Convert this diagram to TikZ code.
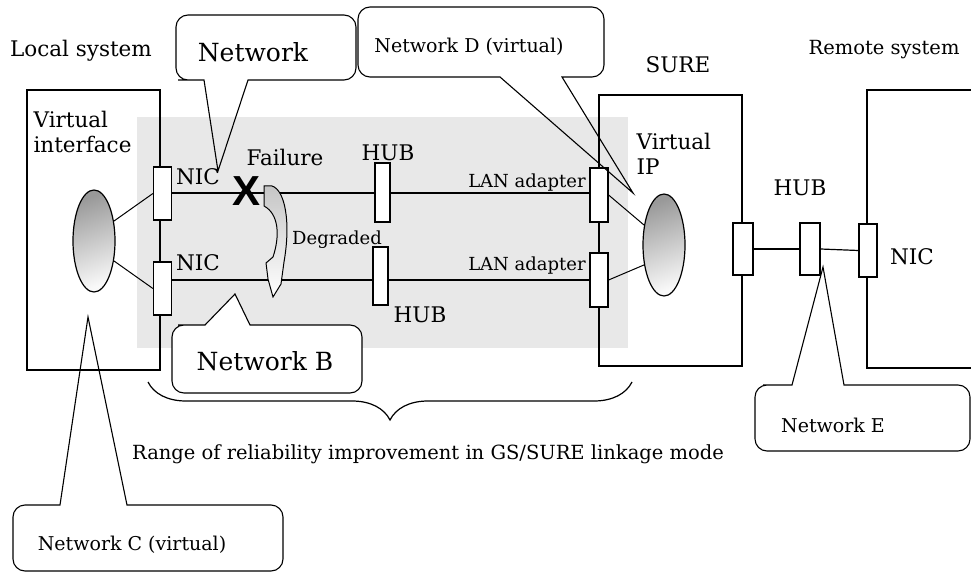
\documentclass[tikz,border=0pt]{standalone}
\usepackage{fontspec}
\setmainfont{DejaVu Serif}
\newfontfamily\failfont{Liberation Sans}
\usetikzlibrary{shapes.geometric,decorations.pathreplacing,positioning,calc}

\begin{document}
\begin{tikzpicture}[x=1pt,y=-1pt,line width=1.2pt,
    lbl/.style={font=\fontsize{21.5}{25}\selectfont,inner sep=0pt},
    sml/.style={font=\fontsize{18}{21}\selectfont,inner sep=0pt},
    note/.style={font=\fontsize{19}{22}\selectfont,inner sep=0pt},
    big/.style={font=\fontsize{25}{28}\selectfont,inner sep=0pt},
    port/.style={draw,fill=white,inner sep=0pt,minimum width=18,minimum height=53},
    vip/.style={draw,ellipse,inner sep=0pt,minimum width=42,minimum height=102,
        left color=gray!80,right color=gray!5,shading angle=20},
    bubble/.style={draw,line width=1.1pt}]
  \useasboundingbox (0,0) rectangle (971,572);
  \fill[gray!18] (137,117) rectangle (628,348);

  \draw (27,90) rectangle (160,370);
  \draw (599,95) rectangle (742,366);
  \draw (971,90) -- (867,90) -- (867,368) -- (971,368);

  \node[port] (nicA) at (162.5,193.5) {};
  \node[port] (nicB) at (162.5,288.5) {};
  \node[port,minimum width=15,minimum height=59] (hubA) at (382.5,192.5) {};
  \node[port,minimum width=15,minimum height=58] (hubB) at (380.5,276) {};
  \node[port,minimum height=54] (lanA) at (599,195) {};
  \node[port,minimum height=54] (lanB) at (599,280) {};
  \node[port,minimum width=20,minimum height=52] (sureNic) at (743,249) {};
  \node[port,minimum width=20,minimum height=52] (hubC) at (810,249) {};
  \node[port] (remNic) at (868,250.5) {};

  \node[vip] (vipL) at (94,241) {};
  \node[vip] (vipR) at (664,245) {};

  \coordinate (lineA) at (0,193);
  \coordinate (lineB) at (0,280);
  \draw (nicA.east |- lineA) -- (hubA.west |- lineA);
  \draw (hubA.east |- lineA) -- (lanA.west |- lineA);
  \draw (nicB.east |- lineB) -- (hubB.west |- lineB);
  \draw (hubB.east |- lineB) -- (lanB.west |- lineB);
  \draw[line width=1pt] (vipL.45) -- (nicA.west);
  \draw[line width=1pt] (vipL.-45) -- (nicB.west);
  \draw[line width=1pt] (vipR.135) -- (lanA.east);
  \draw[line width=1pt] (vipR.-135) -- (lanB.east);
  \draw (sureNic.east) -- (hubC.west);
  \draw (hubC.east) -- (remNic.west);

  \node[lbl] (locLbl) at (81,51) {Local system};
  \node[lbl,anchor=west,font=\fontsize{19.5}{23}\selectfont] (remLbl) at (808,50) {Remote system};
  \node[lbl] (sureLbl) at (678,65) {SURE};
  \node[lbl,anchor=north west,align=left] (viLbl) at (33,111) {Virtual\\interface};
  \node[lbl,anchor=north west,align=left] (vipLbl) at (636,133) {Virtual\\IP};
  \node[lbl] (nicALbl) at (198,177) {NIC};
  \node[lbl] (nicBLbl) at (198,263) {NIC};
  \node[lbl] (remNicLbl) at (912,257) {NIC};
  \node[lbl] (hubALbl) at (388,153) {HUB};
  \node[lbl] (hubBLbl) at (420,315) {HUB};
  \node[lbl] (hubCLbl) at (800,188) {HUB};
  \node[sml] (lanALbl) at (527,183) {LAN adapter};
  \node[sml] (lanBLbl) at (527,266) {LAN adapter};
  \node[lbl] (failLbl) at (285,157) {Failure};
  \node[sml] (degLbl) at (337,240) {Degraded};
  \node[inner sep=0pt,font=\fontsize{42}{42}\selectfont\failfont\bfseries] (fail) at (247,191) {X};

  \draw[line width=1pt,top color=gray!45,bottom color=white]
    (264,186) -- (272,186) .. controls (285,190) and (291,222) .. (284,262)
    -- (281,284) -- (273,297) -- (268,279) -- (266,263) -- (273,257)
    .. controls (280,236) and (279,214) .. (264,206) -- cycle;

  \draw[bubble] (218,171) -- (248,80) -- (300,80) [rounded corners=12pt] -- (356,80)
    -- (356,15) -- (176,15) -- (176,80) -- (190,80) [sharp corners] -- (204,80) -- cycle;
  \node[big] (netA) at (253,52) {Network};
  \draw[bubble] (633,193) -- (562,77) -- (590,77) [rounded corners=12pt] -- (604,77)
    -- (604,7) -- (358,7) -- (358,77) -- (420,77) [sharp corners] -- (500,77) -- cycle;
  \node[note] (netD) at (469,47) {Network D (virtual)};
  \draw[bubble,fill=white] (235,294) -- (250,325) -- (300,325) [rounded corners=12pt]
    -- (362,325) -- (362,393) -- (172,393) -- (172,325) -- (190,325) [sharp corners]
    -- (205,325) -- cycle;
  \node[big] (netB) at (265,361) {Network B};
  \draw[bubble] (88,317) -- (127,505) -- (200,505) [rounded corners=12pt] -- (283,505)
    -- (283,571) -- (13,571) -- (13,505) -- (40,505) [sharp corners] -- (60,505) -- cycle;
  \node[note] (netC) at (132,545) {Network C (virtual)};
  \draw[bubble] (823,267) -- (844,385) -- (900,385) [rounded corners=12pt] -- (970,385)
    -- (970,451) -- (755,451) -- (755,385) -- (775,385) [sharp corners] -- (792,385) -- cycle;
  \node[note] (netE) at (833,425) {Network E};

  \coordinate (brR) at (632,382);
  \coordinate (brL) at (148,382);
  \draw[decorate,decoration={brace,amplitude=38pt}] (brR) -- (brL);
  \node[note,font=\fontsize{19.5}{22}\selectfont] (rangeLbl) at (428,454)
    {Range of reliability improvement in GS/SURE linkage mode};
\end{tikzpicture}
\end{document}
